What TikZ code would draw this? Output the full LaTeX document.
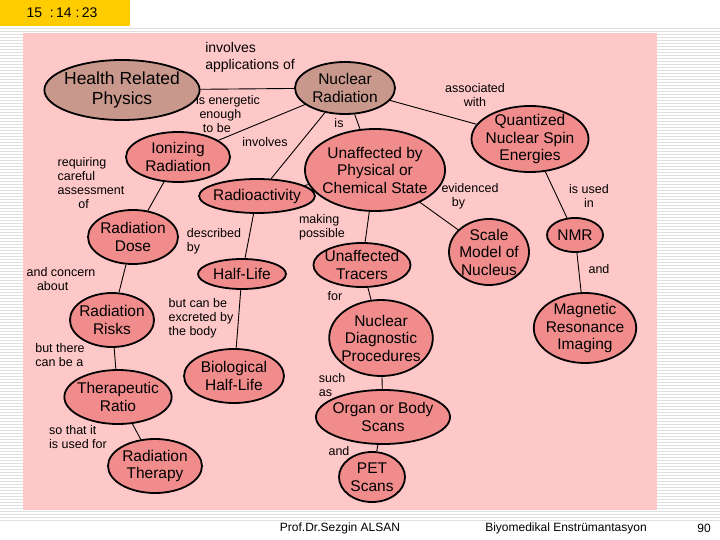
\documentclass[tikz,border=0pt]{standalone}
\usepackage{fontspec}
\setmainfont{Liberation Sans}
\usetikzlibrary{shapes.geometric}
\definecolor{bgp}{HTML}{FFC8C8}
\definecolor{brn}{HTML}{C8988C}
\definecolor{sal}{HTML}{F08C8C}
\definecolor{yel}{HTML}{FFCC00}
\begin{document}
\begin{tikzpicture}[x=1pt,y=-1pt,
  c/.style={ellipse,draw=black,line width=1.8pt,fill=sal,inner sep=-3pt,align=center,font=\fontsize{15.5}{17.5}\selectfont},
  b/.style={c,fill=brn,font=\fontsize{17.5}{20}\selectfont},
  l/.style={font=\fontsize{12.5}{14}\selectfont,align=left,inner sep=0pt},
  e/.style={line width=0.9pt}]
\useasboundingbox (0,0) rectangle (720,540);
\fill[white] (0,0) rectangle (720,540);
\foreach \y in {28,31,...,520} \draw[gray!25,line width=0.4pt] (0,\y) -- (720,\y);
\fill[yel] (0,0) rectangle (130,26);
\node[font=\fontsize{14}{16}\selectfont] (clock) at (62,13) {15\ \ :\,14\ :\,23};
\fill[bgp] (23,33) rectangle (657,510);
\node[b,minimum width=150,minimum height=60] (hrp) at (122,90) {Health Related\\Physics};
\node[b,minimum width=100,minimum height=52,font=\fontsize{15.5}{17.5}\selectfont] (nr) at (345,88) {Nuclear\\Radiation};
\node[c,minimum width=104,minimum height=50] (ion) at (178,157) {Ionizing\\Radiation};
\node[c,minimum width=104,minimum height=34] (rad) at (257,196) {Radioactivity};
\node[c,minimum width=112,minimum height=82] (unc) at (375,170) {Unaffected by\\Physical or\\Chemical State};
\node[c,minimum width=104,minimum height=66] (qns) at (530,139) {Quantized\\Nuclear Spin\\Energies};
\node[c,minimum width=90,minimum height=54] (dose) at (133,237) {Radiation\\Dose};
\node[c,minimum width=88,minimum height=30] (hl) at (242,274) {Half-Life};
\node[c,minimum width=78,minimum height=44] (tr) at (362,265) {Unaffected\\Tracers};
\node[c,minimum width=80,minimum height=66] (sm) at (489,252) {Scale\\Model of\\Nucleus};
\node[c,minimum width=56,minimum height=34] (nmr) at (575,235) {NMR};
\node[c,minimum width=84,minimum height=54] (risk) at (112,320) {Radiation\\Risks};
\node[c,minimum width=100,minimum height=54] (bhl) at (234,376) {Biological\\Half-Life};
\node[c,minimum width=96,minimum height=76] (ndp) at (381,338) {Nuclear\\Diagnostic\\Procedures};
\node[c,minimum width=100,minimum height=70] (mri) at (585,328) {Magnetic\\Resonance\\Imaging};
\node[c,minimum width=100,minimum height=54] (tra) at (118,397) {Therapeutic\\Ratio};
\node[c,minimum width=96,minimum height=54] (obs) at (383,417) {Organ or Body\\Scans};
\node[c,minimum width=94,minimum height=54] (rt) at (155,466) {Radiation\\Therapy};
\node[c,minimum width=66,minimum height=50] (pet) at (372,477) {PET\\Scans};
\draw[e] (hrp) -- (nr);
\draw[e] (nr) -- (ion);
\draw[e] (nr) -- (rad);
\draw[e] (nr) -- (unc);
\draw[e] (nr) -- (qns);
\draw[e] (ion) -- (dose);
\draw[e] (rad) -- (hl);
\draw[e] (rad) -- (unc);
\draw[e] (unc) -- (tr);
\draw[e] (unc) -- (sm);
\draw[e] (qns) -- (nmr);
\draw[e] (nmr) -- (mri);
\draw[e] (dose) -- (risk);
\draw[e] (hl) -- (bhl);
\draw[e] (tr) -- (ndp);
\draw[e] (risk) -- (tra);
\draw[e] (ndp) -- (obs);
\draw[e] (tra) -- (rt);
\draw[e] (obs) -- (pet);
\node[l,font=\fontsize{14}{17}\selectfont] (l1) at (250,57) {involves\\applications of};
\node[l] (l2) at (228,114) {is energetic\\\ enough\\\ \ to be};
\node[l] (l3) at (265,142) {involves};
\node[l] (l4) at (339,123) {is};
\node[l,align=center] (l5) at (475,95) {associated\\with};
\node[l] (l6) at (91,183) {requiring\\careful\\assessment\\\ \ \ \ \ \ of};
\node[l] (l7) at (214,241) {described\\by};
\node[l] (l8) at (322,227) {making\\possible};
\node[l] (l9) at (470,196) {evidenced\\\ \ \ by};
\node[l,align=center] (l10) at (589,196) {is used\\in};
\node[l] (l11) at (599,269) {and};
\node[l] (l12) at (61,279) {and concern\\\ \ \ about};
\node[l] (l13) at (201,318) {but can be\\excreted by\\the body};
\node[l] (l14) at (335,296) {for};
\node[l] (l15) at (60,355) {but there\\can be a};
\node[l] (l16) at (332,385) {such\\as};
\node[l] (l17) at (78,437) {so that it\\is used for};
\node[l] (l18) at (339,451) {and};
\node[font=\fontsize{12}{14}\selectfont] (f1) at (340,528) {Prof.Dr.Sezgin ALSAN};
\node[font=\fontsize{12}{14}\selectfont] (f2) at (566,528) {Biyomedikal Enstrümantasyon};
\node[font=\fontsize{12}{14}\selectfont] (f3) at (704,528) {90};
\end{tikzpicture}
\end{document}
